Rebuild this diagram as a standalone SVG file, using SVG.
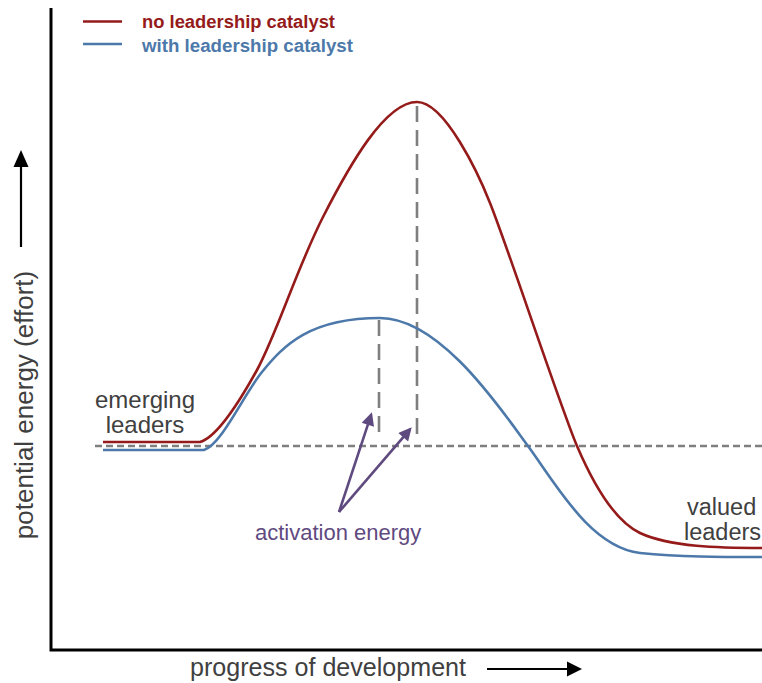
<svg xmlns="http://www.w3.org/2000/svg" width="762" height="683" viewBox="0 0 762 683">
<style>
.lbl{font-family:"Liberation Sans",Arial,sans-serif;fill:#404040}
.leg{font-family:"Liberation Sans",Arial,sans-serif;font-weight:bold;font-size:18px}
.red{stroke:#951b1b;stroke-width:2.6;fill:none}
.blue{stroke:#4d79aa;stroke-width:2.6;fill:none}
.dash{stroke:#7f7f7f;stroke-width:2.6;fill:none}
.purple{stroke:#5f4a7f;stroke-width:2.6;fill:none}
</style>
<defs>
<marker id="ph" viewBox="0 0 10 10" refX="8" refY="5" markerWidth="15" markerHeight="13" markerUnits="userSpaceOnUse" orient="auto">
<path d="M0,0 L10,5 L0,10 z" fill="#5f4a7f"/>
</marker>
</defs>
<rect width="762" height="683" fill="#ffffff"/>
<g id="axes">
<path d="M51,8 L51,650 L762,650" stroke="#000" stroke-width="3" fill="none"/>
<line x1="21" y1="247" x2="21" y2="165" stroke="#000" stroke-width="2.2"/>
<polygon points="13.5,167 21,150 28.5,167" fill="#000"/>
<line x1="487" y1="669" x2="568" y2="669" stroke="#000" stroke-width="2.2"/>
<polygon points="567,661.5 582,669 567,676.5" fill="#000"/>
<text class="lbl" font-size="26" transform="translate(33,405) rotate(-90)" text-anchor="middle">potential energy (effort)</text>
<text class="lbl" font-size="25" x="190" y="676" textLength="276" lengthAdjust="spacingAndGlyphs">progress of development</text>
</g>
<g id="legend">
<line x1="83" y1="21.5" x2="122" y2="21.5" class="red"/>
<text class="leg" x="142" y="27.5" fill="#951b1b" textLength="193" lengthAdjust="spacingAndGlyphs">no leadership catalyst</text>
<line x1="83" y1="44" x2="122" y2="44" class="blue"/>
<text class="leg" x="142" y="52" fill="#4d79aa" textLength="211" lengthAdjust="spacingAndGlyphs">with leadership catalyst</text>
</g>
<g id="guides">
<line x1="95" y1="446" x2="762" y2="446" class="dash" stroke-dasharray="7,4"/>
<line x1="417" y1="106" x2="417" y2="436" class="dash" stroke-dasharray="16,8"/>
<line x1="379" y1="320" x2="379" y2="438" class="dash" stroke-dasharray="16,8"/>
</g>
<g id="curve-no-catalyst">
<path class="red" d="M103,442 L200,442 C215,438 236,408 257,370 C277,333 297,268 323,217 C349,166 385,102 417,102 C445,102 479,175 490,203 C507,245 560,406 577,446 C595,488 615,521 640,533 C670,547 720,548 762,548"/>
</g>
<g id="curve-with-catalyst">
<path class="blue" d="M103,450 L204,450 C222,444 244,394 262,372 C284,345 310,318 380,318 C440,318 500,408 528,446 C556,484 590,547 640,553 C680,557 720,557 762,557"/>
</g>
<g id="connectors">
<line x1="339" y1="512" x2="371.1" y2="414.8" class="purple" marker-end="url(#ph)"/>
<line x1="339" y1="512" x2="410" y2="429.3" class="purple" marker-end="url(#ph)"/>
</g>
<g id="label-emerging">
<text class="lbl" font-size="24" x="145" y="408" text-anchor="middle">emerging</text>
<text class="lbl" font-size="24" x="145" y="433" text-anchor="middle">leaders</text>
</g>
<g id="label-valued">
<text class="lbl" font-size="23.5" x="687" y="515">valued</text>
<text class="lbl" font-size="23.5" x="684" y="540">leaders</text>
</g>
<g id="label-activation">
<text class="lbl" font-size="22" x="255" y="540" style="fill:#5f4a7f">activation energy</text>
</g>
</svg>
